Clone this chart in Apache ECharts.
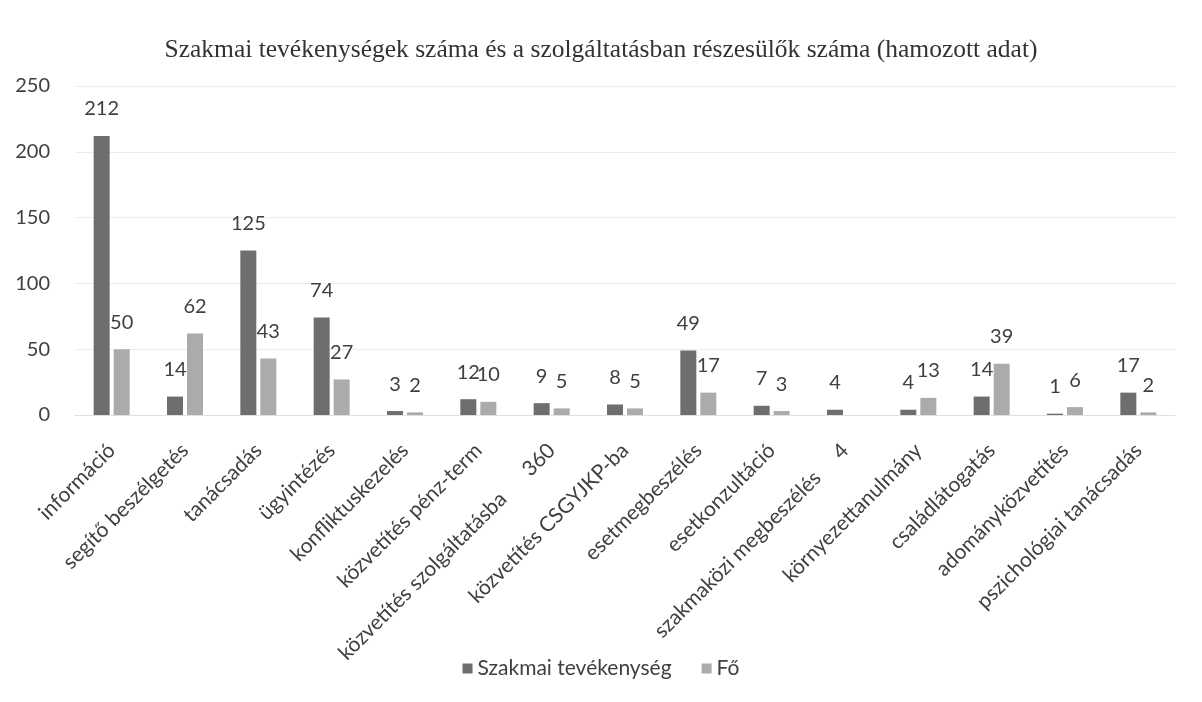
<!DOCTYPE html>
<html>
<head>
<meta charset="utf-8">
<script src="https://cdn.jsdelivr.net/npm/echarts@6/dist/echarts.min.js"></script>
<style>
  html, body { margin: 0; padding: 0; background: #fff; }
  #chart { width: 1202px; height: 702px; }
</style>
</head>
<body>
<div id="chart"></div>
<script>
// adatok
const categories = [
  'információ', 'segítő beszélgetés', 'tanácsadás', 'ügyintézés',
  'konfliktuskezelés', 'közvetítés pénz-term', 'közvetítés szolgáltatásba      360',
  'közvetítés CSGYJKP-ba', 'esetmegbeszélés', 'esetkonzultáció',
  'szakmaközi megbeszélés     4', 'környezettanulmány', 'családlátogatás',
  'adományközvetítés', 'pszichológiai tanácsadás'
];
const szakmaiTevekenyseg = [212, 14, 125, 74, 3, 12, 9, 8, 49, 7, 4, 4, 14, 1, 17];
const fo = [50, 62, 43, 27, 2, 10, 5, 5, 17, 3, null, 13, 39, 6, 2];
const yTicks = { min: 0, max: 250, interval: 50 };

const chart = echarts.init(document.getElementById('chart'));

const labelStyle = {
  show: true,
  position: 'top',
  distance: 17,
  fontFamily: 'Lato',
  fontSize: 20,
  color: '#404040'
};

const option = {
  animation: false,
  title: {
    text: 'Szakmai tevékenységek száma és a szolgáltatásban részesülők száma (hamozott adat)',
    left: 'center',
    top: 32,
    textStyle: {
      fontFamily: 'Liberation Serif',
      fontWeight: 'normal',
      fontSize: 25.5,
      color: '#333'
    }
  },
  legend: {
    bottom: 18,
    left: 'center',
    itemWidth: 10,
    itemHeight: 10,
    itemGap: 30,
    icon: 'rect',
    textStyle: { fontFamily: 'Lato', fontSize: 21, color: '#404040' },
    data: ['Szakmai tevékenység', 'Fő']
  },
  grid: { left: 75, right: 27, top: 86, bottom: 287 },
  xAxis: {
    type: 'category',
    data: categories,
    axisLine: { show: true, lineStyle: { color: '#e0e0e0' } },
    axisTick: { show: false },
    axisLabel: {
      rotate: 45,
      interval: 0,
      margin: 32,
      fontFamily: 'Lato',
      fontSize: 21,
      color: '#404040'
    }
  },
  yAxis: {
    type: 'value',
    min: yTicks.min,
    max: yTicks.max,
    interval: yTicks.interval,
    axisLine: { show: false },
    axisTick: { show: false },
    splitLine: { lineStyle: { color: '#ececec' } },
    axisLabel: {
      margin: 25,
      fontFamily: 'Lato',
      fontSize: 20,
      color: '#404040'
    }
  },
  series: [
    {
      name: 'Szakmai tevékenység',
      type: 'bar',
      barWidth: 16,
      barGap: '25%',
      itemStyle: { color: '#6e6e6e' },
      label: labelStyle,
      data: szakmaiTevekenyseg
    },
    {
      name: 'Fő',
      type: 'bar',
      barWidth: 16,
      itemStyle: { color: '#ababab' },
      label: labelStyle,
      data: fo
    }
  ]
};

chart.setOption(option);
</script>
</body>
</html>
